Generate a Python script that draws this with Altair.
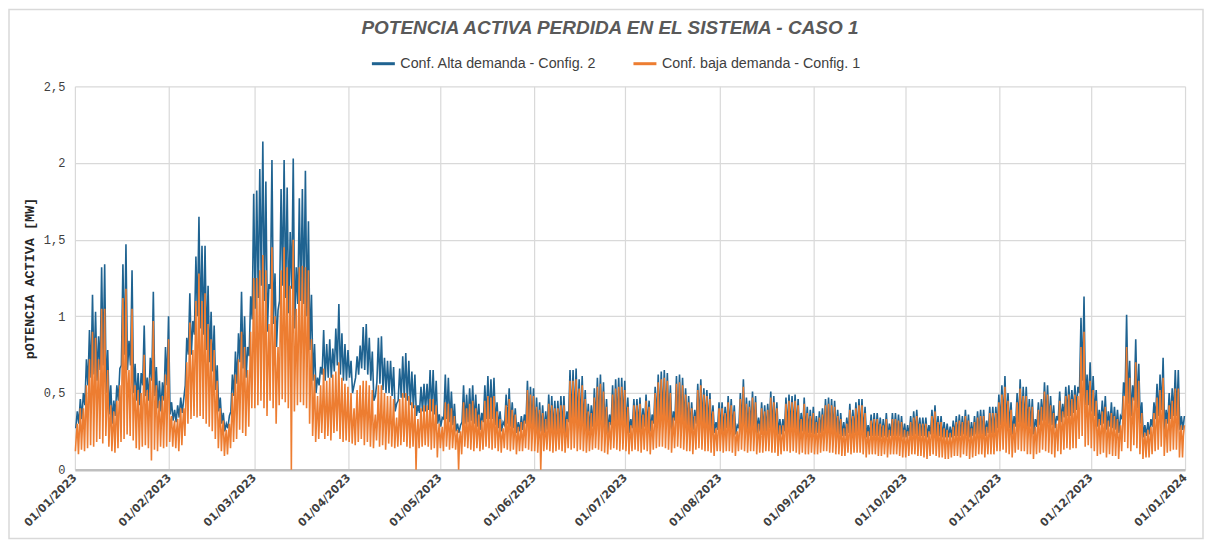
import altair as alt
import pandas as pd
from datetime import date, timedelta

TITULO = "POTENCIA ACTIVA PERDIDA EN EL SISTEMA - CASO 1"
SERIE_ALTA = "Conf. Alta demanda - Config.  2"
SERIE_BAJA = "Conf. baja demanda - Config. 1"
AZUL = "#1f6391"
NARANJA = "#ed7d31"

# Daily values (MW), 1 Jan 2023 .. 31 Dec 2023
# Blue series: daily peak
alta_pico = [
    0.38,0.46,0.50,0.72,0.91,1.14,1.03,0.87,1.32,1.34,0.78,0.55,0.45,0.55,0.66,1.34,1.47,0.84,1.30,0.69,0.63,0.63,0.94,0.60,0.73,1.16,0.67,0.58,0.57,0.80,1.00,
    0.44,0.39,0.42,0.47,0.46,0.86,1.15,0.97,1.39,1.65,1.46,1.46,1.20,1.03,0.94,0.68,0.47,0.37,0.30,0.35,0.62,0.77,0.89,1.16,1.00,0.80,1.13,1.80,
    1.82,1.96,2.14,1.88,1.21,2.02,1.28,1.04,1.83,2.02,1.84,1.55,2.03,1.32,1.77,1.83,1.95,1.62,1.14,0.82,0.60,0.67,0.91,0.82,0.85,0.79,0.92,1.08,0.89,0.82,0.78,
    0.71,0.55,0.74,0.81,0.93,0.95,0.86,0.77,0.48,0.86,0.87,0.73,0.71,0.71,0.67,0.43,0.66,0.74,0.76,0.71,0.64,0.62,0.42,0.54,0.56,0.56,0.65,0.65,0.58,0.36,
    0.34,0.62,0.60,0.51,0.43,0.30,0.29,0.55,0.49,0.53,0.55,0.49,0.43,0.37,0.55,0.61,0.59,0.60,0.44,0.38,0.31,0.49,0.53,0.44,0.40,0.31,0.35,0.36,0.58,0.54,0.53,
    0.47,0.44,0.42,0.38,0.49,0.48,0.45,0.45,0.48,0.48,0.38,0.65,0.65,0.66,0.59,0.61,0.52,0.43,0.42,0.53,0.60,0.62,0.57,0.46,0.36,0.55,0.59,0.60,0.60,0.58,
    0.47,0.33,0.46,0.46,0.47,0.40,0.49,0.45,0.36,0.54,0.62,0.64,0.65,0.63,0.55,0.38,0.61,0.62,0.60,0.53,0.48,0.44,0.39,0.56,0.59,0.53,0.52,0.50,0.42,0.31,0.44,
    0.44,0.41,0.48,0.46,0.42,0.29,0.50,0.59,0.47,0.45,0.51,0.48,0.34,0.44,0.42,0.43,0.51,0.48,0.44,0.33,0.33,0.47,0.49,0.48,0.49,0.46,0.37,0.47,0.41,0.39,0.41,
    0.35,0.38,0.40,0.46,0.47,0.46,0.45,0.39,0.37,0.31,0.34,0.43,0.39,0.44,0.46,0.46,0.41,0.29,0.36,0.37,0.37,0.34,0.33,0.37,0.30,0.37,0.37,0.36,0.35,0.30,
    0.29,0.35,0.38,0.39,0.34,0.34,0.34,0.29,0.39,0.42,0.35,0.35,0.31,0.30,0.28,0.32,0.35,0.36,0.35,0.39,0.36,0.31,0.35,0.38,0.39,0.39,0.32,0.41,0.41,0.41,0.49,
    0.55,0.61,0.50,0.44,0.35,0.50,0.59,0.54,0.54,0.46,0.46,0.33,0.44,0.46,0.57,0.55,0.48,0.42,0.35,0.51,0.43,0.54,0.55,0.52,0.55,0.54,0.99,1.13,0.62,0.70,
    0.61,0.52,0.39,0.45,0.48,0.38,0.44,0.41,0.39,0.35,0.57,1.01,0.71,0.55,0.85,0.69,0.44,0.29,0.31,0.33,0.44,0.56,0.62,0.73,0.39,0.50,0.53,0.65,0.65,0.35,0.35,
]
# Blue series: daytime base level
alta_medio = [
    0.27,0.30,0.33,0.42,0.55,0.60,0.62,0.58,0.65,0.68,0.50,0.36,0.30,0.35,0.45,0.68,0.75,0.65,0.68,0.50,0.45,0.42,0.55,0.48,0.45,0.58,0.48,0.40,0.38,0.45,0.55,
    0.36,0.32,0.31,0.34,0.37,0.55,0.75,0.75,0.88,1.00,0.92,0.88,0.78,0.70,0.64,0.52,0.38,0.30,0.25,0.27,0.38,0.48,0.56,0.70,0.66,0.60,0.74,0.98,
    1.05,1.12,1.20,1.10,0.90,1.18,0.95,0.80,1.10,1.20,1.12,1.02,1.18,0.92,1.08,1.10,1.08,1.00,0.78,0.58,0.50,0.55,0.62,0.58,0.60,0.60,0.64,0.68,0.62,0.58,0.58,
    0.60,0.50,0.60,0.62,0.66,0.65,0.62,0.58,0.45,0.57,0.56,0.52,0.50,0.50,0.48,0.38,0.45,0.47,0.47,0.45,0.42,0.40,0.35,0.37,0.38,0.38,0.39,0.38,0.36,0.30,
    0.28,0.33,0.33,0.31,0.29,0.25,0.24,0.31,0.30,0.31,0.32,0.30,0.28,0.26,0.31,0.33,0.33,0.33,0.29,0.27,0.25,0.29,0.30,0.28,0.27,0.24,0.25,0.26,0.30,0.30,0.29,
    0.26,0.25,0.25,0.24,0.26,0.26,0.25,0.25,0.26,0.26,0.24,0.31,0.31,0.32,0.30,0.30,0.28,0.25,0.25,0.28,0.30,0.31,0.30,0.26,0.24,0.29,0.30,0.31,0.31,0.30,
    0.27,0.24,0.27,0.27,0.27,0.26,0.28,0.27,0.25,0.30,0.32,0.33,0.34,0.33,0.31,0.26,0.32,0.32,0.32,0.30,0.28,0.27,0.26,0.30,0.31,0.30,0.30,0.28,0.26,0.24,0.26,
    0.26,0.25,0.27,0.27,0.26,0.23,0.27,0.29,0.27,0.26,0.27,0.27,0.24,0.25,0.25,0.25,0.27,0.26,0.25,0.23,0.23,0.25,0.26,0.26,0.26,0.25,0.23,0.25,0.24,0.24,0.24,
    0.23,0.24,0.24,0.25,0.26,0.25,0.25,0.24,0.23,0.22,0.22,0.24,0.23,0.24,0.24,0.24,0.23,0.21,0.22,0.22,0.22,0.22,0.21,0.22,0.21,0.22,0.22,0.22,0.22,0.21,
    0.21,0.22,0.22,0.23,0.22,0.22,0.22,0.21,0.23,0.23,0.22,0.22,0.21,0.21,0.21,0.21,0.22,0.22,0.22,0.23,0.22,0.21,0.22,0.23,0.23,0.23,0.22,0.24,0.24,0.24,0.27,
    0.29,0.31,0.29,0.27,0.23,0.28,0.31,0.30,0.30,0.28,0.28,0.23,0.28,0.29,0.32,0.32,0.30,0.29,0.27,0.32,0.31,0.34,0.35,0.35,0.37,0.39,0.50,0.58,0.42,0.42,
    0.38,0.35,0.28,0.29,0.30,0.26,0.28,0.27,0.26,0.24,0.33,0.48,0.43,0.35,0.45,0.40,0.30,0.21,0.22,0.23,0.28,0.33,0.35,0.39,0.26,0.30,0.33,0.35,0.35,0.26,0.26,
]
# Orange series: daily peak
baja_pico = [
    0.30,0.40,0.40,0.55,0.72,0.90,0.86,0.72,1.05,1.05,0.65,0.42,0.38,0.45,0.55,1.12,1.18,0.65,1.05,0.55,0.52,0.50,0.75,0.52,0.60,0.97,0.55,0.45,0.48,0.62,0.85,
    0.35,0.32,0.33,0.40,0.40,0.70,0.96,0.78,1.10,1.28,1.10,1.15,0.95,0.85,0.78,0.58,0.40,0.32,0.26,0.30,0.50,0.62,0.72,0.90,0.80,0.65,0.90,1.25,
    1.25,1.30,1.40,1.30,0.95,1.45,1.00,0.80,1.30,1.45,1.32,1.20,1.50,1.05,1.32,1.33,1.32,1.30,0.85,0.62,0.48,0.55,0.66,0.58,0.60,0.62,0.64,0.70,0.60,0.56,0.54,
    0.50,0.40,0.52,0.55,0.58,0.58,0.55,0.52,0.36,0.55,0.55,0.50,0.48,0.48,0.46,0.34,0.46,0.50,0.50,0.48,0.44,0.42,0.33,0.40,0.42,0.42,0.46,0.46,0.42,0.30,
    0.28,0.44,0.43,0.40,0.35,0.26,0.25,0.44,0.40,0.43,0.45,0.40,0.36,0.32,0.45,0.48,0.47,0.48,0.38,0.33,0.27,0.42,0.46,0.39,0.36,0.28,0.31,0.32,0.52,0.49,0.48,
    0.41,0.39,0.37,0.33,0.43,0.42,0.40,0.40,0.42,0.42,0.33,0.58,0.58,0.59,0.53,0.55,0.46,0.38,0.37,0.47,0.54,0.56,0.51,0.41,0.31,0.49,0.53,0.54,0.54,0.52,
    0.41,0.29,0.42,0.42,0.43,0.36,0.45,0.41,0.32,0.50,0.57,0.59,0.60,0.58,0.50,0.34,0.56,0.57,0.55,0.49,0.44,0.40,0.35,0.52,0.55,0.49,0.48,0.46,0.38,0.27,0.40,
    0.40,0.37,0.44,0.42,0.38,0.25,0.46,0.54,0.43,0.41,0.47,0.44,0.30,0.40,0.38,0.39,0.47,0.44,0.40,0.29,0.29,0.43,0.45,0.44,0.45,0.42,0.33,0.43,0.37,0.35,0.37,
    0.31,0.34,0.36,0.42,0.43,0.42,0.41,0.35,0.33,0.27,0.30,0.39,0.35,0.40,0.42,0.42,0.37,0.25,0.32,0.33,0.33,0.30,0.29,0.33,0.26,0.33,0.33,0.32,0.31,0.26,
    0.25,0.31,0.34,0.35,0.30,0.30,0.30,0.25,0.35,0.38,0.31,0.31,0.27,0.26,0.24,0.28,0.31,0.32,0.31,0.35,0.32,0.27,0.31,0.34,0.35,0.35,0.28,0.37,0.37,0.37,0.44,
    0.49,0.54,0.45,0.39,0.30,0.44,0.53,0.48,0.48,0.41,0.41,0.28,0.39,0.41,0.51,0.49,0.42,0.37,0.30,0.45,0.38,0.48,0.49,0.46,0.49,0.48,0.80,0.90,0.52,0.58,
    0.52,0.45,0.33,0.38,0.41,0.32,0.37,0.35,0.33,0.29,0.48,0.80,0.60,0.47,0.70,0.58,0.37,0.24,0.26,0.28,0.37,0.47,0.52,0.60,0.33,0.42,0.45,0.53,0.53,0.29,0.29,
]
# Orange series: daytime base level
baja_medio = [
    0.22,0.25,0.28,0.35,0.45,0.48,0.50,0.48,0.52,0.55,0.40,0.30,0.26,0.30,0.38,0.55,0.60,0.52,0.55,0.42,0.38,0.35,0.45,0.40,0.38,0.48,0.40,0.33,0.32,0.38,0.45,
    0.30,0.27,0.26,0.28,0.30,0.45,0.60,0.60,0.70,0.80,0.72,0.70,0.62,0.55,0.50,0.40,0.30,0.25,0.20,0.22,0.30,0.38,0.45,0.55,0.52,0.48,0.58,0.75,
    0.80,0.85,0.90,0.82,0.68,0.88,0.72,0.60,0.82,0.90,0.85,0.78,0.88,0.70,0.82,0.84,0.82,0.78,0.58,0.40,0.33,0.36,0.40,0.37,0.38,0.38,0.40,0.42,0.38,0.35,0.34,
    0.32,0.30,0.33,0.34,0.36,0.36,0.34,0.32,0.28,0.32,0.33,0.31,0.30,0.30,0.29,0.26,0.28,0.30,0.30,0.29,0.27,0.27,0.24,0.26,0.27,0.27,0.28,0.28,0.27,0.22,
    0.22,0.25,0.25,0.24,0.23,0.21,0.20,0.24,0.24,0.25,0.25,0.24,0.23,0.22,0.24,0.26,0.26,0.26,0.24,0.22,0.21,0.24,0.25,0.23,0.22,0.20,0.21,0.22,0.26,0.26,0.25,
    0.23,0.22,0.22,0.21,0.23,0.23,0.22,0.22,0.23,0.23,0.21,0.27,0.27,0.28,0.26,0.26,0.24,0.22,0.22,0.24,0.26,0.27,0.26,0.23,0.21,0.25,0.26,0.27,0.27,0.26,
    0.24,0.21,0.24,0.24,0.24,0.23,0.25,0.24,0.22,0.26,0.28,0.29,0.30,0.29,0.27,0.23,0.28,0.28,0.28,0.26,0.25,0.24,0.23,0.26,0.27,0.26,0.26,0.25,0.23,0.21,0.23,
    0.23,0.22,0.24,0.24,0.23,0.20,0.24,0.26,0.24,0.23,0.24,0.24,0.21,0.22,0.22,0.22,0.24,0.23,0.22,0.20,0.20,0.22,0.23,0.23,0.23,0.22,0.20,0.22,0.21,0.21,0.21,
    0.20,0.21,0.21,0.22,0.23,0.22,0.22,0.21,0.20,0.19,0.19,0.21,0.20,0.21,0.21,0.21,0.20,0.18,0.19,0.19,0.19,0.19,0.18,0.19,0.18,0.19,0.19,0.19,0.19,0.18,
    0.18,0.19,0.19,0.20,0.19,0.19,0.19,0.18,0.20,0.20,0.19,0.19,0.18,0.18,0.18,0.18,0.19,0.19,0.19,0.20,0.19,0.18,0.19,0.20,0.20,0.20,0.19,0.21,0.21,0.21,0.23,
    0.25,0.27,0.25,0.23,0.20,0.24,0.27,0.26,0.26,0.24,0.24,0.20,0.24,0.25,0.28,0.28,0.26,0.25,0.23,0.28,0.27,0.30,0.31,0.31,0.33,0.34,0.42,0.48,0.36,0.36,
    0.33,0.30,0.24,0.25,0.26,0.22,0.24,0.23,0.22,0.20,0.28,0.40,0.36,0.30,0.38,0.34,0.26,0.18,0.19,0.20,0.24,0.28,0.30,0.33,0.22,0.26,0.28,0.30,0.30,0.22,0.22,
]
# Orange series: night-time minimum
baja_valle = [
    0.12,0.10,0.13,0.12,0.14,0.16,0.15,0.18,0.20,0.17,0.22,0.15,0.12,0.11,0.14,0.18,0.20,0.23,0.22,0.19,0.14,0.13,0.15,0.16,0.14,0.06,0.13,0.12,0.15,0.14,0.15,
    0.18,0.15,0.14,0.12,0.16,0.22,0.30,0.33,0.35,0.34,0.35,0.33,0.30,0.28,0.25,0.20,0.14,0.12,0.09,0.10,0.14,0.18,0.20,0.26,0.24,0.22,0.28,0.40,
    0.40,0.42,0.45,0.40,0.35,0.45,0.40,0.30,0.42,0.46,0.44,0.40,0.00,0.38,0.42,0.44,0.42,0.40,0.30,0.22,0.18,0.20,0.24,0.20,0.22,0.19,0.24,0.25,0.20,0.18,0.19,
    0.18,0.17,0.16,0.18,0.20,0.16,0.18,0.15,0.14,0.19,0.15,0.16,0.13,0.17,0.15,0.14,0.15,0.16,0.18,0.15,0.14,0.15,0.00,0.14,0.15,0.16,0.15,0.13,0.14,0.08,
    0.14,0.12,0.15,0.13,0.14,0.13,0.00,0.10,0.15,0.14,0.13,0.12,0.14,0.12,0.13,0.15,0.14,0.13,0.14,0.12,0.11,0.14,0.13,0.12,0.13,0.10,0.12,0.12,0.14,0.13,0.12,
    0.12,0.11,0.00,0.12,0.13,0.12,0.11,0.12,0.13,0.12,0.11,0.14,0.13,0.14,0.12,0.13,0.12,0.11,0.12,0.13,0.14,0.13,0.12,0.11,0.10,0.13,0.14,0.13,0.12,0.13,
    0.12,0.10,0.12,0.13,0.12,0.11,0.13,0.12,0.10,0.13,0.14,0.15,0.15,0.14,0.13,0.11,0.14,0.15,0.14,0.13,0.12,0.12,0.10,0.13,0.14,0.13,0.12,0.12,0.11,0.09,0.12,
    0.12,0.11,0.12,0.12,0.11,0.09,0.12,0.13,0.12,0.11,0.12,0.12,0.10,0.11,0.11,0.12,0.12,0.11,0.11,0.09,0.10,0.12,0.12,0.11,0.12,0.11,0.10,0.11,0.10,0.10,0.11,
    0.10,0.10,0.11,0.12,0.12,0.11,0.11,0.10,0.10,0.09,0.09,0.11,0.10,0.11,0.11,0.11,0.10,0.08,0.10,0.10,0.10,0.09,0.09,0.10,0.08,0.10,0.10,0.10,0.09,0.08,
    0.08,0.09,0.10,0.10,0.09,0.09,0.08,0.07,0.09,0.10,0.09,0.08,0.08,0.07,0.07,0.08,0.09,0.09,0.08,0.10,0.09,0.07,0.08,0.09,0.10,0.10,0.08,0.10,0.10,0.10,0.12,
    0.12,0.13,0.11,0.10,0.08,0.11,0.13,0.12,0.12,0.10,0.10,0.07,0.10,0.11,0.13,0.12,0.11,0.10,0.08,0.12,0.10,0.13,0.14,0.13,0.14,0.14,0.20,0.22,0.15,0.16,
    0.14,0.12,0.09,0.10,0.11,0.08,0.10,0.09,0.09,0.07,0.12,0.18,0.14,0.12,0.16,0.14,0.10,0.07,0.08,0.08,0.10,0.12,0.13,0.15,0.09,0.11,0.12,0.13,0.13,0.08,0.08,
]

inicio = date(2023, 1, 1)
filas = []
for i, (m, p) in enumerate(zip(alta_medio, alta_pico)):
    d = (inicio + timedelta(days=i)).isoformat()
    filas.append({"t": d + "T07:00:00", "v": m, "s": SERIE_ALTA})
    filas.append({"t": d + "T19:00:00", "v": p, "s": SERIE_ALTA})
for i, (lo, m, p) in enumerate(zip(baja_valle, baja_medio, baja_pico)):
    d = (inicio + timedelta(days=i)).isoformat()
    filas.append({"t": d + "T04:00:00", "v": lo, "s": SERIE_BAJA})
    filas.append({"t": d + "T11:00:00", "v": m, "s": SERIE_BAJA})
    filas.append({"t": d + "T19:00:00", "v": p, "s": SERIE_BAJA})
df = pd.DataFrame(filas)

meses = [alt.DateTime(year=2023, month=k, date=1) for k in range(1, 13)] + [alt.DateTime(year=2024, month=1, date=1)]

x_enc = alt.X(
    "t:T",
    scale=alt.Scale(domain=[alt.DateTime(year=2023, month=1, date=1), alt.DateTime(year=2024, month=1, date=1)]),
    axis=alt.Axis(
        title=None, values=meses, labelExpr="timeFormat(datum.value, '%d/%m/%Y')",
        labelAngle=315, labelAlign="right", labelBaseline="middle", labelPadding=6,
        labelFont="DejaVu Sans", labelFontSize=11, labelFontWeight="bold", labelColor="#404040",
        ticks=False, domainColor="#bfbfbf", domainWidth=2.5,
        grid=True, gridColor="#d9d9d9", gridWidth=1.2, labelOverlap=False, labelFlush=False,
    ),
)
y_enc = alt.Y(
    "v:Q",
    scale=alt.Scale(domain=[0, 2.5], nice=False),
    axis=alt.Axis(
        title="pOTENCIA ACTIVA [MW]", titleFont="Liberation Mono", titleFontSize=13.5,
        titleFontWeight="bold", titleColor="#262626", titlePadding=7,
        values=[0, 0.5, 1, 1.5, 2, 2.5],
        labelExpr="replace(format(datum.value, '~g'), '.', ',')",
        labelFont="Liberation Mono", labelFontSize=12, labelColor="#404040", labelPadding=10,
        ticks=False, domain=False, grid=True, gridColor="#d9d9d9", gridWidth=1.2,
    ),
)
color_enc = alt.Color(
    "s:N",
    scale=alt.Scale(domain=[SERIE_ALTA, SERIE_BAJA], range=[AZUL, NARANJA]),
    legend=alt.Legend(
        title=None, orient="none", legendX=296, legendY=-36, direction="horizontal", columns=2,
        symbolType="stroke", symbolSize=529, symbolStrokeWidth=3,
        labelFont="Liberation Sans", labelFontSize=14.3, labelColor="#404040", labelLimit=0,
        columnPadding=26, labelOffset=4,
    ),
)

base = alt.Chart(df).encode(x=x_enc, y=y_enc, color=color_enc)
azul = base.transform_filter(alt.datum.s == SERIE_ALTA).mark_line(strokeWidth=1.6)
naranja = base.transform_filter(alt.datum.s == SERIE_BAJA).mark_line(strokeWidth=1.6)

marco = alt.Chart(alt.Data(values=[{"k": 1}])).mark_rect(
    filled=False, stroke="#d9d9d9", strokeWidth=1.5
).encode(x=alt.value(-66), x2=alt.value(1130), y=alt.value(-77), y2=alt.value(453))

titulo = alt.Chart(alt.Data(values=[{"titulo": TITULO}])).mark_text(
    font="Liberation Sans", fontSize=19, fontStyle="italic", fontWeight="bold",
    color="#595959", align="center", baseline="middle",
).encode(text="titulo:N", x=alt.value(536), y=alt.value(-58))

chart = alt.layer(marco, azul, naranja, titulo).properties(
    width=1112, height=384,
    autosize=alt.AutoSizeParams(type="none"),
    padding={"left": 67, "top": 78, "right": 19, "bottom": 70},
    background="white",
).configure_view(stroke=None)

chart.save("out.html", embed_options={"renderer": "svg", "actions": False})
